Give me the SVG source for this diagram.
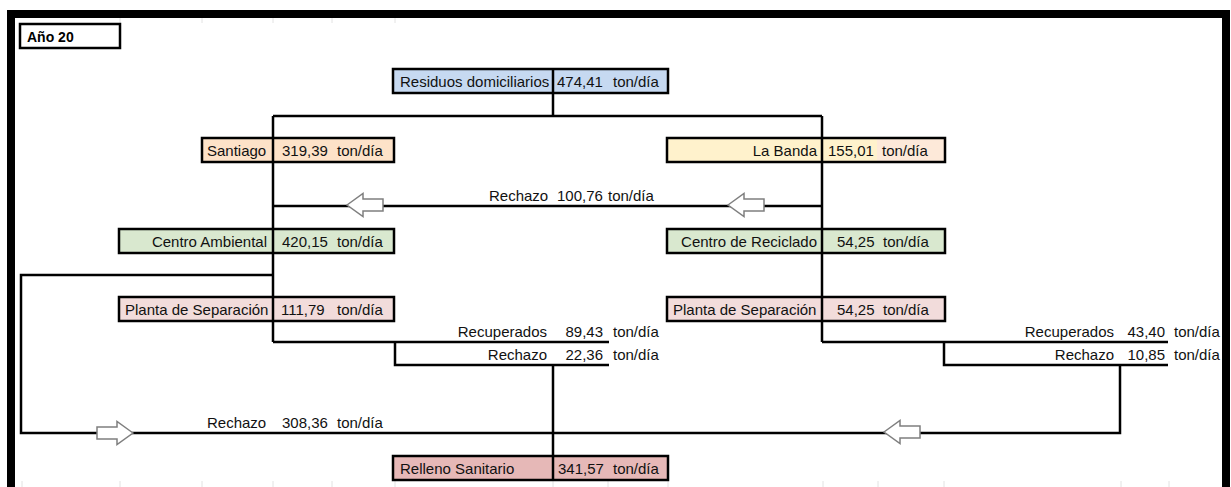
<svg xmlns="http://www.w3.org/2000/svg" width="1231" height="487" viewBox="0 0 1231 487">
<style>
.t{font-family:"Liberation Sans",Arial,sans-serif;font-size:15px;fill:#111}
.b{font-family:"Liberation Sans",Arial,sans-serif;font-size:14px;font-weight:bold;fill:#000}
.box{stroke:#000;stroke-width:2.5}
.ln{fill:none;stroke:#000;stroke-width:2.5}
.arr{fill:#fff;stroke:#7f7f7f;stroke-width:1.5}
.grid{stroke:#e2e2e2;stroke-width:1}
</style>
<defs>
<polygon id="al" points="0,0 16,-11.5 16,-6 36,-6 36,6 16,6 16,11.5"/>
</defs>
<rect width="1231" height="487" fill="#fff"/>
<g id="gridlines" class="grid">
<line x1="22" y1="481" x2="22" y2="487"/><line x1="120" y1="481" x2="120" y2="487"/><line x1="202" y1="481" x2="202" y2="487"/><line x1="273" y1="481" x2="273" y2="487"/><line x1="332" y1="481" x2="332" y2="487"/><line x1="395" y1="481" x2="395" y2="487"/><line x1="553" y1="481" x2="553" y2="487"/><line x1="608" y1="481" x2="608" y2="487"/><line x1="668" y1="481" x2="668" y2="487"/><line x1="823" y1="481" x2="823" y2="487"/><line x1="878" y1="481" x2="878" y2="487"/><line x1="944" y1="481" x2="944" y2="487"/><line x1="1121" y1="481" x2="1121" y2="487"/><line x1="1169" y1="481" x2="1169" y2="487"/>
<line x1="120" y1="18" x2="120" y2="23"/><line x1="202" y1="18" x2="202" y2="23"/><line x1="273" y1="18" x2="273" y2="23"/><line x1="332" y1="18" x2="332" y2="23"/><line x1="395" y1="18" x2="395" y2="23"/>
</g>
<path id="frame" d="M11,487 V14 H1226 V487" fill="none" stroke="#000" stroke-width="8"/>
<g id="connectors">
<path class="ln" d="M553,93 V116 M273,116 H822 M273,116 V342 M822,116 V342 M273,206 H822"/>
<path class="ln" d="M273,275 H21 V433 H1120 V365"/>
<path class="ln" d="M273,342 H609 M395,342 V365 H609 M553,365 V456"/>
<path class="ln" d="M822,342 H1168 M944,342 V365 H1168"/>
<use href="#al" class="arr" x="347" y="205"/>
<use href="#al" class="arr" x="728" y="205"/>
<use href="#al" class="arr" transform="translate(133,433) scale(-1,1)"/>
<use href="#al" class="arr" x="884" y="432"/>
<text class="t" x="489" y="201">Rechazo</text><text class="t" x="557" y="201">100,76</text><text class="t" x="608" y="201">ton/día</text>
<text class="t" x="547" y="337" text-anchor="end">Recuperados</text><text class="t" x="603" y="337" text-anchor="end">89,43</text><text class="t" x="613" y="337">ton/día</text>
<text class="t" x="547" y="360" text-anchor="end">Rechazo</text><text class="t" x="603" y="360" text-anchor="end">22,36</text><text class="t" x="613" y="360">ton/día</text>
<text class="t" x="1114" y="337" text-anchor="end">Recuperados</text><text class="t" x="1165" y="337" text-anchor="end">43,40</text><text class="t" x="1174" y="337">ton/día</text>
<text class="t" x="1114" y="360" text-anchor="end">Rechazo</text><text class="t" x="1165" y="360" text-anchor="end">10,85</text><text class="t" x="1174" y="360">ton/día</text>
<text class="t" x="207" y="428">Rechazo</text><text class="t" x="282" y="428">308,36</text><text class="t" x="337" y="428">ton/día</text>
</g>
<g id="anio">
<rect class="box" x="20" y="24" width="100" height="24" fill="#fff"/>
<text class="b" x="27" y="42">Año 20</text>
</g>
<g id="residuos">
<rect class="box" x="393" y="69" width="275" height="24" fill="#c6d9f1"/>
<line class="ln" x1="553" y1="69" x2="553" y2="93"/>
<text class="t" x="400" y="87">Residuos domiciliarios</text><text class="t" x="557" y="87">474,41</text><text class="t" x="613" y="87">ton/día</text>
</g>
<g id="santiago">
<rect class="box" x="202" y="138" width="192" height="24" fill="#fde2c8"/>
<line class="ln" x1="273" y1="138" x2="273" y2="162"/>
<text class="t" x="207" y="156">Santiago</text><text class="t" x="282" y="156">319,39</text><text class="t" x="337" y="156">ton/día</text>
</g>
<g id="labanda">
<rect x="667" y="138" width="210" height="24" fill="#fff2cc"/>
<rect x="877" y="138" width="68" height="24" fill="#fde9d9"/>
<rect class="box" x="667" y="138" width="278" height="24" fill="none"/>
<line class="ln" x1="822" y1="138" x2="822" y2="162"/>
<text class="t" x="817" y="156" text-anchor="end">La Banda</text><text class="t" x="828" y="156">155,01</text><text class="t" x="882" y="156">ton/día</text>
</g>
<g id="centro-ambiental">
<rect class="box" x="119" y="229" width="275" height="24" fill="#d9e8cf"/>
<line class="ln" x1="273" y1="229" x2="273" y2="253"/>
<text class="t" x="267" y="247" text-anchor="end">Centro Ambiental</text><text class="t" x="282" y="247">420,15</text><text class="t" x="337" y="247">ton/día</text>
</g>
<g id="centro-reciclado">
<rect class="box" x="667" y="229" width="278" height="24" fill="#d9e8cf"/>
<line class="ln" x1="822" y1="229" x2="822" y2="253"/>
<text class="t" x="817" y="247" text-anchor="end">Centro de Reciclado</text><text class="t" x="837" y="247">54,25</text><text class="t" x="883" y="247">ton/día</text>
</g>
<g id="planta-izq">
<rect class="box" x="119" y="297" width="275" height="24" fill="#f2dcdb"/>
<line class="ln" x1="273" y1="297" x2="273" y2="321"/>
<text class="t" x="125" y="315">Planta de Separación</text><text class="t" x="281" y="315">111,79</text><text class="t" x="337" y="315">ton/día</text>
</g>
<g id="planta-der">
<rect class="box" x="667" y="297" width="278" height="24" fill="#f2dcdb"/>
<line class="ln" x1="822" y1="297" x2="822" y2="321"/>
<text class="t" x="673" y="315">Planta de Separación</text><text class="t" x="837" y="315">54,25</text><text class="t" x="883" y="315">ton/día</text>
</g>
<g id="relleno">
<rect class="box" x="393" y="456" width="275" height="24" fill="#e6b8b7"/>
<line class="ln" x1="553" y1="456" x2="553" y2="480"/>
<text class="t" x="400" y="474">Relleno Sanitario</text><text class="t" x="558" y="474">341,57</text><text class="t" x="613" y="474">ton/día</text>
</g>
</svg>
